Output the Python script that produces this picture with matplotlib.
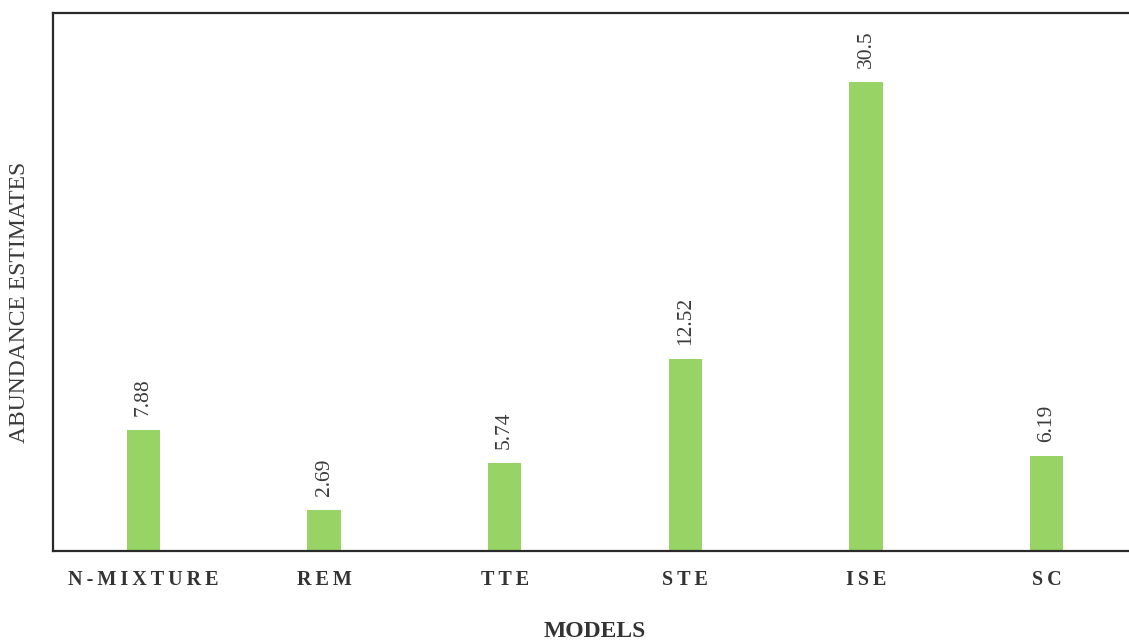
import matplotlib.pyplot as plt

# abundance estimates per model
models = ["N-MIXTURE", "REM", "TTE", "STE", "ISE", "SC"]
estimates = [7.88, 2.69, 5.74, 12.52, 30.5, 6.19]
value_labels = ["7.88", "2.69", "5.74", "12.52", "30.5", "6.19"]

plt.rcParams['font.family'] = ['Liberation Serif', 'DejaVu Serif']

fig = plt.figure(figsize=(11.29, 6.41), dpi=100)
ax = fig.add_axes([0.047, 0.1404, 0.96, 0.8393])

x = range(len(models))
bars = ax.bar(x, estimates, width=0.185, color='#98d365')

for bar, txt in zip(bars, value_labels):
    ax.annotate(txt, (bar.get_x() + bar.get_width() / 2, bar.get_height()),
                xytext=(0, 10), textcoords='offset points',
                ha='center', va='bottom', rotation=90,
                fontsize=15.5, color='#3a3a3a')

# spaced-out category labels
spaced = ["\u2009".join(m) for m in models]
ax.set_xticks(list(x))
ax.set_xticklabels(spaced, fontsize=14.5, fontweight='bold', color='#333333')
ax.tick_params(axis='x', length=0, pad=14)
ax.set_yticks([])

ax.set_xlim(-0.5, 5.5)
ax.set_ylim(0, 35)

for side in ['top', 'left', 'bottom']:
    ax.spines[side].set_color('#2a2a2a')
    ax.spines[side].set_linewidth(1.6)
ax.spines['right'].set_visible(False)

ax.set_xlabel("MODELS", fontsize=17, fontweight='bold', color='#333333', labelpad=22)
ax.set_ylabel("ABUNDANCE ESTIMATES", fontsize=17, color='#3a3a3a')
ax.yaxis.set_label_coords(-0.021, 0.463)

plt.savefig("out.png", dpi=100)
